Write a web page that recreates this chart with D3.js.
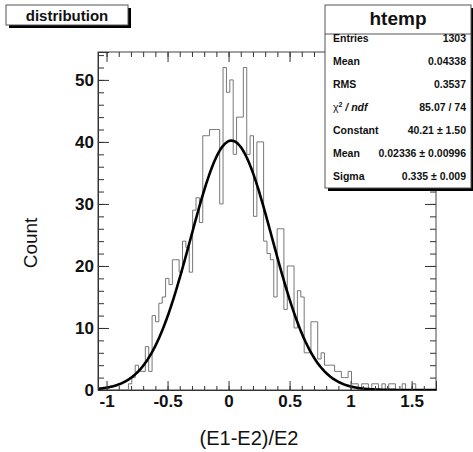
<!DOCTYPE html>
<html lang="en">
<head>
<meta charset="UTF-8">
<title>distribution</title>
<script src="https://cdn.jsdelivr.net/npm/d3@7"></script>
<style>
    body{
        margin: 0;
        background: #fff;
        font-family: "Liberation Sans", Arial, sans-serif;
    }
    svg{ display: block; }
    .hist{ fill: none; stroke: #777; stroke-width: 1px; }
    .fit{ fill: none; stroke: #000; stroke-width: 2.6px; }
    .axis path, .axis line{ stroke: #333; }
    .axis text{
        font-family: "Liberation Sans", Arial, sans-serif;
        font-weight: bold;
        font-size: 17px;
        fill: #111;
    }
    .stat{ font-size: 10.5px; font-weight: bold; fill: #111; }
</style>
</head>
<body>
<script>
// histogram range and bin contents (100 bins)
const xMin = -1.07, xMax = 1.70;
const counts = [
    0, 0, 0, 0, 0, 0, 0, 0, 0, 1,
    2, 4, 3, 3, 7, 3, 12, 11, 14, 15,
    18, 17, 21, 21, 19, 24, 23, 19, 29, 31,
    27, 41, 41, 42, 42, 42, 30, 52, 48, 50,
    38, 44, 44, 52, 38, 41, 28, 40, 40, 24,
    22, 21, 15, 26, 26, 13, 20, 20, 10, 16,
    15, 6, 6, 11, 11, 5, 6, 4, 4, 4,
    3, 3, 2, 2, 3, 1, 1, 0, 1, 1,
    0, 1, 1, 0, 1, 0, 1, 1, 0, 0,
    1, 0, 0, 1, 0, 0, 0, 0, 0, 0
];
// gaussian fit parameters from the stats box
const fitConstant = 40.21, fitMean = 0.02336, fitSigma = 0.335;

const xTicks = [-1, -0.5, 0, 0.5, 1, 1.5];
const yTicks = [0, 10, 20, 30, 40, 50];
const yMax = 54.5;

const statsLabels = ["Entries", "Mean", "RMS", "chi2", "Constant", "Mean", "Sigma"];
const statsValues = ["1303", "0.04338", "0.3537", "85.07 / 74", "40.21 \u00b1 1.50", "0.02336 \u00b1 0.00996", "0.335 \u00b1 0.009"];

const width = 473, height = 452;
const frame = {left: 98, right: 436, top: 52, bottom: 390};

const svg = d3.select("body").append("svg")
    .attr("width", width).attr("height", height);

const x = d3.scaleLinear().domain([xMin, xMax]).range([frame.left, frame.right]);
const y = d3.scaleLinear().domain([0, yMax]).range([frame.bottom, frame.top]);

svg.append("clipPath").attr("id", "clip")
    .append("rect")
    .attr("x", frame.left).attr("y", frame.top)
    .attr("width", frame.right - frame.left).attr("height", frame.bottom - frame.top);

// frame
svg.append("rect")
    .attr("x", frame.left).attr("y", frame.top)
    .attr("width", frame.right - frame.left).attr("height", frame.bottom - frame.top)
    .attr("fill", "none").attr("stroke", "#444");

// histogram outline
const nBins = counts.length;
const binW = (xMax - xMin) / nBins;
let pts = [[xMin, 0]];
counts.forEach((c, i) => {
    pts.push([xMin + i * binW, c]);
    pts.push([xMin + (i + 1) * binW, c]);
});
pts.push([xMax, 0]);

svg.append("path")
    .datum(pts)
    .attr("class", "hist")
    .attr("d", d3.line().x(d => x(d[0])).y(d => y(d[1])));

// fit curve
const fitPts = d3.range(0, 401).map(i => {
    const xv = xMin + i * (xMax - xMin) / 400;
    return [xv, fitConstant * Math.exp(-0.5 * Math.pow((xv - fitMean) / fitSigma, 2))];
});
svg.append("path")
    .datum(fitPts)
    .attr("class", "fit")
    .attr("clip-path", "url(#clip)")
    .attr("d", d3.line().x(d => x(d[0])).y(d => y(d[1])));

// axes: ticks pointing inward, on all four sides
const minorX = d3.range(-10, 18).map(v => v / 10);
const minorY = d3.range(0, 55, 2);

svg.append("g").attr("class", "axis")
    .attr("transform", `translate(0,${frame.bottom})`)
    .call(d3.axisBottom(x).tickValues(minorX).tickSize(-4).tickFormat(""))
    .call(g => g.select(".domain").remove());
svg.append("g").attr("class", "axis")
    .attr("transform", `translate(0,${frame.bottom})`)
    .call(d3.axisBottom(x).tickValues(xTicks).tickSize(-9).tickPadding(5).tickFormat(d => String(d)))
    .call(g => g.select(".domain").attr("stroke", "#333"));

svg.append("g").attr("class", "axis")
    .attr("transform", `translate(0,${frame.top})`)
    .call(d3.axisTop(x).tickValues(minorX).tickSize(-5).tickFormat(""))
    .call(g => g.select(".domain").remove());
svg.append("g").attr("class", "axis")
    .attr("transform", `translate(0,${frame.top})`)
    .call(d3.axisTop(x).tickValues(xTicks).tickSize(-10).tickFormat(""))
    .call(g => g.select(".domain").remove());

svg.append("g").attr("class", "axis")
    .attr("transform", `translate(${frame.left},0)`)
    .call(d3.axisLeft(y).tickValues(minorY).tickSize(-6).tickFormat(""))
    .call(g => g.select(".domain").remove());
svg.append("g").attr("class", "axis")
    .attr("transform", `translate(${frame.left},0)`)
    .call(d3.axisLeft(y).tickValues(yTicks).tickSize(-11).tickPadding(4))
    .call(g => g.select(".domain").attr("stroke", "#333"));

svg.append("g").attr("class", "axis")
    .attr("transform", `translate(${frame.right},0)`)
    .call(d3.axisRight(y).tickValues(minorY).tickSize(-6).tickFormat(""))
    .call(g => g.select(".domain").remove());
svg.append("g").attr("class", "axis")
    .attr("transform", `translate(${frame.right},0)`)
    .call(d3.axisRight(y).tickValues(yTicks).tickSize(-11).tickFormat(""))
    .call(g => g.select(".domain").remove());

// axis titles
svg.append("text")
    .attr("x", 249).attr("y", 445)
    .attr("text-anchor", "middle")
    .style("font-size", "20px")
    .attr("fill", "#111")
    .text("(E1-E2)/E2");

svg.append("text")
    .attr("transform", "translate(37,243) rotate(-90)")
    .attr("text-anchor", "middle")
    .style("font-size", "19px")
    .attr("fill", "#111")
    .text("Count");

// title box
svg.append("rect").attr("x", 9).attr("y", 8).attr("width", 122).attr("height", 20).attr("fill", "#000");
svg.append("rect").attr("x", 6).attr("y", 5).attr("width", 122).attr("height", 20)
    .attr("fill", "#fff").attr("stroke", "#555");
svg.append("text")
    .attr("x", 67).attr("y", 21)
    .attr("text-anchor", "middle")
    .style("font-size", "15px").style("font-weight", "bold")
    .attr("fill", "#111")
    .text("distribution");

// stats box
const sb = {x: 325, y: 5, w: 146, h: 183};
svg.append("rect").attr("x", sb.x + 3).attr("y", sb.y + 3).attr("width", sb.w).attr("height", sb.h).attr("fill", "#000");
svg.append("rect").attr("x", sb.x).attr("y", sb.y).attr("width", sb.w).attr("height", sb.h)
    .attr("fill", "#fff").attr("stroke", "#555");
svg.append("line").attr("x1", sb.x).attr("x2", sb.x + sb.w).attr("y1", 34).attr("y2", 34).attr("stroke", "#555");
svg.append("text")
    .attr("x", sb.x + sb.w / 2).attr("y", 25)
    .attr("text-anchor", "middle")
    .style("font-size", "19px").style("font-weight", "bold")
    .attr("fill", "#111")
    .text("htemp");

statsLabels.forEach((lab, i) => {
    const yy = 42 + i * 23;
    const t = svg.append("text").attr("class", "stat").attr("x", sb.x + 8).attr("y", yy);
    if (lab === "chi2") {
        t.append("tspan").style("font-weight", "normal").text("\u03c7");
        t.append("tspan").attr("dy", -4).style("font-size", "7px").text("2");
        t.append("tspan").attr("dy", 4).style("font-style", "italic").text(" / ndf");
    } else {
        t.text(lab);
    }
    svg.append("text").attr("class", "stat")
        .attr("x", sb.x + sb.w - 5).attr("y", yy)
        .attr("text-anchor", "end")
        .text(statsValues[i]);
});
</script>
</body>
</html>
